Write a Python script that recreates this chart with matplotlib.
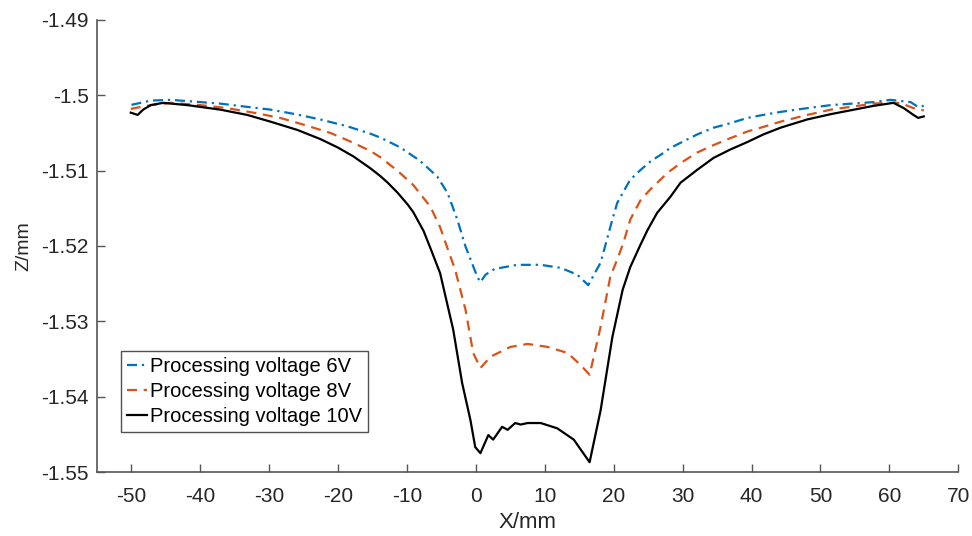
import numpy as np
import matplotlib.pyplot as plt

plt.rcParams['font.family'] = ['Liberation Sans', 'DejaVu Sans']
plt.rcParams['axes.unicode_minus'] = False

# profile X positions (mm) and Z heights (mm) for each voltage
x_6v = [-50.0, -47.2, -44.3, -37.1, -33.5, -29.8, -26.2, -22.6, -18.7, -15.3,
        -13.9, -11.0, -8.1, -5.6, -4.1, -2.7, -1.5, 0.2, 0.65, 1.4, 2.1, 2.8,
        3.6, 6.0, 9.4, 12.3, 14.7, 16.3, 18.1, 19.8, 20.5, 21.4, 22.4, 23.9,
        25.3, 26.8, 28.2, 29.7, 32.1, 34.5, 36.9, 39.4, 41.7, 44.2, 48.1, 51.5,
        57.7, 60.2, 63.1, 64.1, 65.0]
z_6v = [-1.50126, -1.5007, -1.5006, -1.5011, -1.5015, -1.5019, -1.5025, -1.5032,
        -1.5041, -1.5051, -1.5056, -1.5069, -1.5087, -1.5108, -1.5130, -1.5165,
        -1.5201, -1.5241, -1.5248, -1.5238, -1.5234, -1.5230, -1.5229, -1.5225,
        -1.5225, -1.5229, -1.5238, -1.5252, -1.5222, -1.5165, -1.5143, -1.5128,
        -1.5112, -1.5099, -1.5088, -1.5079, -1.5070, -1.5063, -1.5052, -1.5043,
        -1.5037, -1.5030, -1.5026, -1.5022, -1.5017, -1.5013, -1.5009, -1.5006,
        -1.5009, -1.5015, -1.5014]

x_8v = [-50.1, -47.2, -44.3, -40.0, -36.1, -32.3, -28.4, -25.0, -21.1, -17.8,
        -15.3, -13.9, -11.4, -9.1, -6.6, -5.2, -4.4, -3.0, -1.5, -0.4, 0.65,
        2.1, 5.0, 7.5, 10.4, 13.3, 15.2, 16.5, 18.1, 19.5, 20.5, 21.4, 22.4,
        23.9, 25.3, 27.8, 29.7, 32.1, 34.5, 36.9, 39.4, 41.7, 44.2, 48.1, 51.5,
        57.7, 59.7, 61.6, 63.5, 65.0]
z_8v = [-1.5018, -1.5013, -1.5010, -1.5013, -1.5017, -1.5023, -1.5030, -1.5039,
        -1.5050, -1.5063, -1.5074, -1.5082, -1.5100, -1.5119, -1.5148, -1.5175,
        -1.5196, -1.5232, -1.5285, -1.5342, -1.5362, -1.5347, -1.5334, -1.5330,
        -1.5334, -1.5342, -1.5358, -1.5371, -1.5307, -1.5241, -1.5218, -1.5196,
        -1.5165, -1.5139, -1.5125, -1.5103, -1.5090, -1.5076, -1.5066, -1.5057,
        -1.5048, -1.5042, -1.5035, -1.5026, -1.5019, -1.5011, -1.5010, -1.5010,
        -1.5017, -1.5020]

x_10v = [-50.1, -49.1, -48.3, -47.2, -45.4, -41.9, -37.1, -33.2, -29.8, -25.9,
         -22.6, -20.1, -17.8, -15.3, -13.9, -12.8, -11.4, -9.9, -9.1, -7.6,
         -6.6, -5.2, -3.3, -2.0, -0.8, -0.1, 0.65, 1.8, 2.5, 3.8, 4.6, 5.7, 6.5,
         7.5, 9.4, 11.8, 14.2, 16.5, 18.1, 19.8, 21.3, 22.4, 23.9, 24.9, 26.3,
         28.2, 29.7, 32.1, 34.5, 36.9, 39.4, 41.7, 44.2, 48.1, 51.5, 57.7, 60.6,
         62.1, 63.5, 64.2, 65.0]
z_10v = [-1.5023, -1.5026, -1.5019, -1.5013, -1.5010, -1.5013, -1.5019, -1.5026,
         -1.5035, -1.5046, -1.5058, -1.5069, -1.5081, -1.5097, -1.5107, -1.5116,
         -1.5129, -1.5145, -1.5155, -1.5180, -1.5203, -1.5236, -1.5311, -1.5382,
         -1.5431, -1.5467, -1.5475, -1.5451, -1.5457, -1.5440, -1.5444, -1.5435,
         -1.5437, -1.5435, -1.5435, -1.5442, -1.5457, -1.5487, -1.5418, -1.5321,
         -1.5258, -1.5228, -1.5198, -1.5179, -1.5156, -1.5135, -1.5116, -1.5099,
         -1.5083, -1.5072, -1.5062, -1.5052, -1.5043, -1.5032, -1.5025, -1.5014,
         -1.5010, -1.5017, -1.5026, -1.5030, -1.5028]

labels = ['Processing voltage 6V', 'Processing voltage 8V', 'Processing voltage 10V']
xticks = np.arange(-50, 71, 10)
yticks = [-1.55, -1.54, -1.53, -1.52, -1.51, -1.5, -1.49]
ytick_labels = ['-1.55', '-1.54', '-1.53', '-1.52', '-1.51', '-1.5', '-1.49']

fig = plt.figure(figsize=(9.72, 5.36), dpi=100)
ax = fig.add_axes([0.0998, 0.1194, 0.886, 0.8433])

ax.plot(x_6v, z_6v, '-.', color='#0072BD', lw=1.6, label=labels[0],
        dashes=(4.5, 2.2, 1, 2.2))
ax.plot(x_8v, z_8v, '--', color='#D95319', lw=1.6, label=labels[1],
        dashes=(4.5, 3))
ax.plot(x_10v, z_10v, '-', color='black', lw=1.6, label=labels[2],
        solid_joinstyle='round')

ax.set_xlim(-55, 70)
ax.set_ylim(-1.55, -1.49)
ax.set_xticks(xticks)
ax.set_yticks(yticks)
ax.set_yticklabels(ytick_labels)

for s in ['top', 'right']:
    ax.spines[s].set_visible(False)
for s in ['left', 'bottom']:
    ax.spines[s].set_color('#555555')
    ax.spines[s].set_linewidth(1.2)
ax.tick_params(direction='in', length=6, width=1, colors='#555555',
               labelcolor='#262626', labelsize=15)
ax.tick_params(axis='y', pad=6)
ax.tick_params(axis='x', pad=11)

ax.set_xlabel('X/mm', fontsize=16, color='#262626', labelpad=4)
ax.set_ylabel('Z/mm', fontsize=14, color='#262626', labelpad=6)

leg = ax.legend(loc='lower left', bbox_to_anchor=(0.028, 0.088), fontsize=14.5,
                fancybox=False, frameon=True, edgecolor='#262626',
                handlelength=1.0, handletextpad=0.15, borderpad=0.3,
                labelspacing=0.3, borderaxespad=0)
leg.get_frame().set_linewidth(1.0)

fig.savefig('out.png', dpi=100)
